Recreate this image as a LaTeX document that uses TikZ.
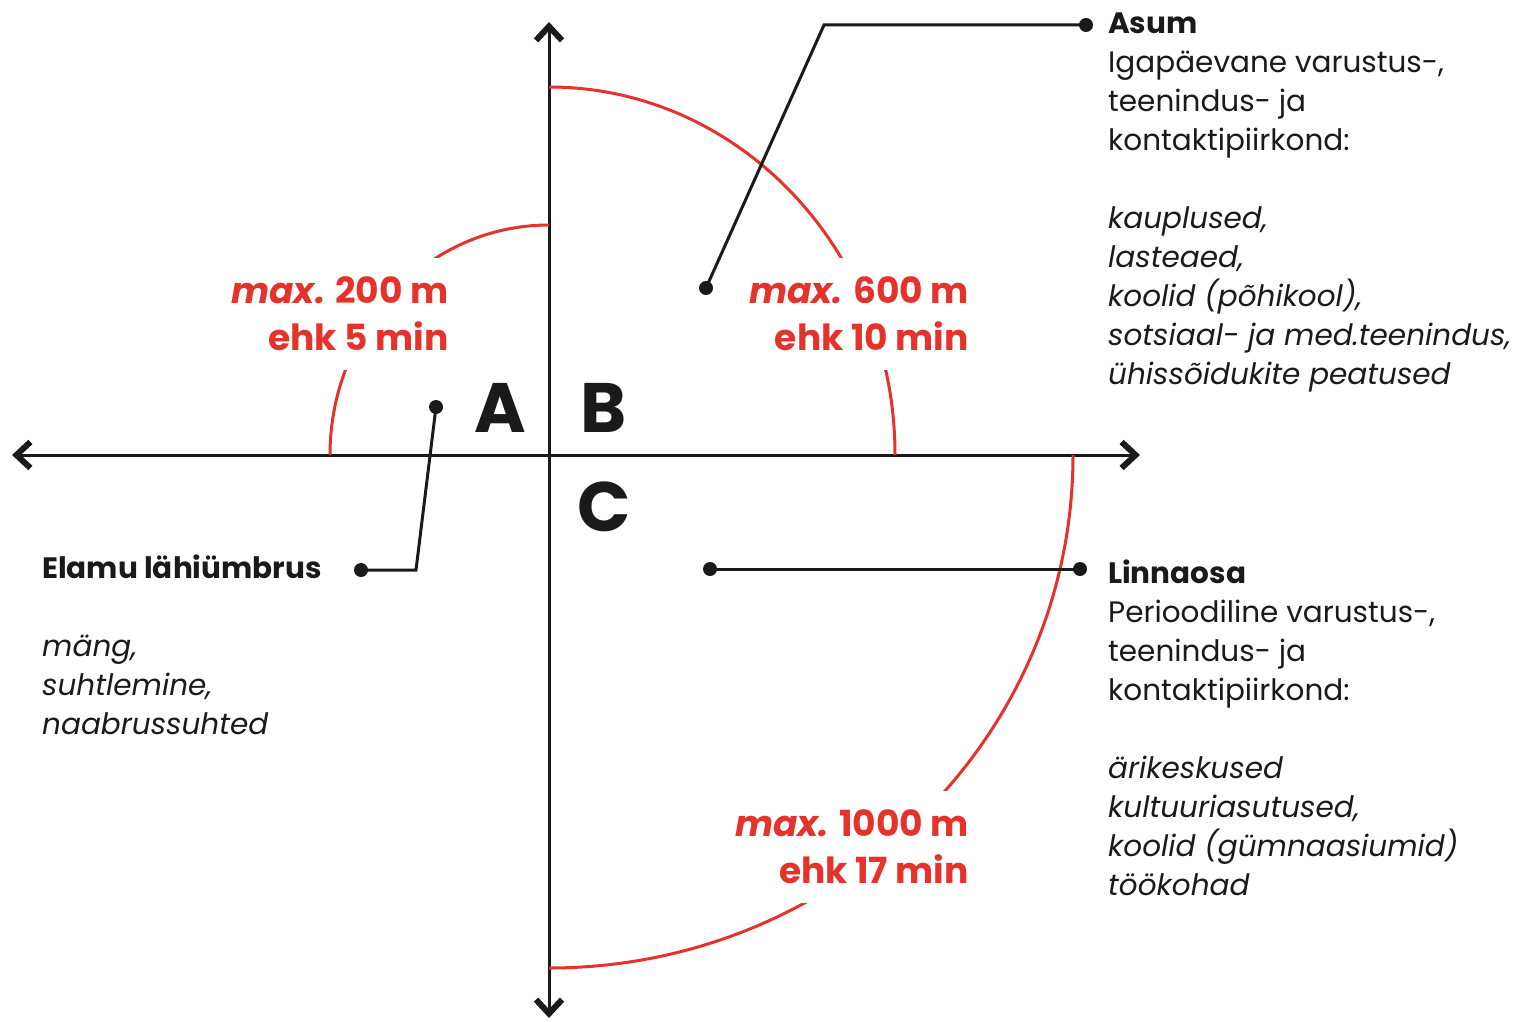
\documentclass[tikz,border=0pt]{standalone}
\usepackage{fontspec}
\setmainfont{Poppins}
\usepackage{xcolor}
\usetikzlibrary{arrows.meta,positioning}

\definecolor{zonered}{RGB}{229,50,42}
\definecolor{inkblack}{RGB}{26,26,26}

\begin{document}
\begin{tikzpicture}[
    x=1pt, y=-1pt,
    axis/.style={
        draw=inkblack,
        line width=3pt,
        {Straight Barb[length=14pt,width=26pt,line width=6pt]}-{Straight Barb[length=14pt,width=26pt,line width=6pt]}
    },
    zonearc/.style={
        draw=zonered,
        line width=3pt
    },
    zonelabel/.style={
        fill=white,
        text=zonered,
        align=right,
        inner xsep=2pt,
        inner ysep=19pt,
        font=\fontsize{36}{47}\selectfont\bfseries
    },
    quadrant/.style={
        text=inkblack,
        inner sep=0pt,
        font=\fontsize{70}{70}\selectfont\bfseries
    },
    dot/.style={
        circle,
        fill=inkblack,
        minimum size=14pt,
        inner sep=0pt
    },
    leader/.style={
        draw=inkblack,
        line width=3pt
    },
    infotext/.style={
        align=left,
        anchor=north west,
        inner sep=0pt,
        text=inkblack,
        font=\fontsize{29.5}{39}\selectfont
    }
]
    \useasboundingbox (0,0) rectangle (1526,1022);

    % --- AXES ---
    \coordinate (o) at (549,455);
    \coordinate (west) at (12,455);
    \coordinate (east) at (1140,455);
    \coordinate (north) at (549,22);
    \coordinate (south) at (549,1018);

    \draw [axis] (west) -- (east);
    \draw [axis] (south) -- (north);

    % --- WALKING DISTANCES ---
    \draw [zonearc] (o) ++(-219,0) arc[start angle=180, end angle=270, x radius=219, y radius=230];
    \draw [zonearc] (o) ++(0,-368) arc[start angle=270, end angle=360, x radius=346, y radius=368];
    \draw [zonearc] (o) ++(524,0) arc[start angle=0, end angle=90, x radius=524, y radius=513];

    \node [zonelabel] (near) at (340,314) {\textit{max.} 200 m\\ehk 5 min};
    \node [zonelabel] (mid) at (859,314) {\textit{max.} 600 m\\ehk 10 min};
    \node [zonelabel] (far) at (852,847) {\textit{max.} 1000 m\\ehk 17 min};

    % --- QUADRANTS ---
    \node [quadrant] (qa) at (500,408) {A};
    \node [quadrant] (qb) at (604,408) {B};
    \node [quadrant] (qc) at (604,507) {C};

    % --- LEADERS ---
    % Asum
    \node [dot] (asumin) at (706,288) {};
    \node [dot] (asumout) at (1086,25) {};
    \coordinate (asumbend) at (824,25);
    \draw [leader] (asumin.center) -- (asumbend) -- (asumout.center);

    % Elamu
    \node [dot] (elamuin) at (436,407) {};
    \node [dot] (elamuout) at (361,570) {};
    \coordinate (elamubend) at (416,570);
    \draw [leader] (elamuin.center) -- (elamubend) -- (elamuout.center);

    % Linnaosa
    \node [dot] (linnain) at (710,569) {};
    \node [dot] (linnaout) at (1080,569) {};
    \draw [leader] (linnain.center) -- (linnaout.center);

    % --- DESCRIPTIONS ---
    \node [infotext] (asum) at (1108,13) {\textbf{Asum}\\
        Igapäevane varustus-,\\
        teenindus- ja\\
        kontaktipiirkond:\\[39pt]
        \textit{kauplused,}\\
        \textit{lasteaed,}\\
        \textit{koolid (põhikool),}\\
        \textit{sotsiaal- ja med.teenindus,}\\
        \textit{ühissõidukite peatused}};

    \node [infotext] (elamu) at (42,555) {\textbf{Elamu lähiümbrus}\\[39pt]
        \textit{mäng,}\\
        \textit{suhtlemine,}\\
        \textit{naabrussuhted}};

    \node [infotext] (linnaosa) at (1108,560) {\textbf{Linnaosa}\\
        Perioodiline varustus-,\\
        teenindus- ja\\
        kontaktipiirkond:\\[39pt]
        \textit{ärikeskused}\\
        \textit{kultuuriasutused,}\\
        \textit{koolid (gümnaasiumid)}\\
        \textit{töökohad}};

\end{tikzpicture}
\end{document}
